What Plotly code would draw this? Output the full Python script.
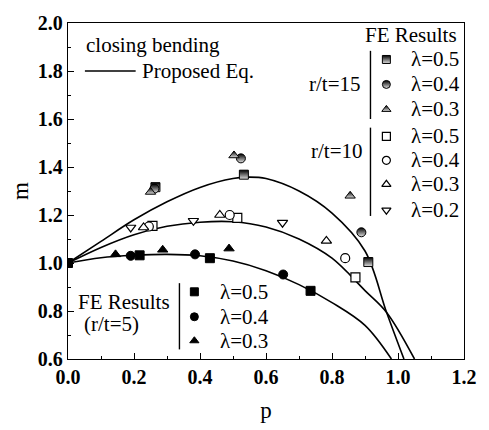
import plotly.graph_objects as go

# ---- FE results (r/t = 5, filled) ----
p5_sq = [0.0, 0.217, 0.43, 0.735]
m5_sq = [1.0, 1.032, 1.02, 0.884]
p5_ci = [0.19, 0.385, 0.652]
m5_ci = [1.03, 1.036, 0.952]
p5_tr = [0.144, 0.287, 0.488]
m5_tr = [1.036, 1.055, 1.06]

# ---- FE results (r/t = 10, open) ----
p10_sq = [0.256, 0.513, 0.871]
m10_sq = [1.155, 1.188, 0.94]
p10_ci = [0.245, 0.49, 0.84]
m10_ci = [1.152, 1.2, 1.02]
p10_tr = [0.229, 0.46, 0.783]
m10_tr = [1.148, 1.2, 1.092]
p10_dt = [0.19, 0.38, 0.65]
m10_dt = [1.148, 1.176, 1.168]

# ---- FE results (r/t = 15, half filled) ----
p15_sq = [0.265, 0.533, 0.91]
m15_sq = [1.316, 1.368, 1.004]
p15_ci = [0.262, 0.524, 0.889]
m15_ci = [1.31, 1.436, 1.128]
p15_tr = [0.25, 0.503, 0.855]
m15_tr = [1.296, 1.448, 1.28]

# ---- Proposed Eq. curves ----
curve_p5 = [0, 0.1, 0.2, 0.3, 0.4, 0.5, 0.6, 0.7, 0.8, 0.9, 0.98]
curve_m5 = [1.0, 1.022, 1.032, 1.036, 1.03, 1.008, 0.968, 0.91, 0.835, 0.74, 0.6]
curve_p10 = [0, 0.1, 0.2, 0.3, 0.4, 0.5, 0.6, 0.7, 0.8, 0.9, 0.965, 1.05]
curve_m10 = [1.0, 1.065, 1.118, 1.153, 1.17, 1.172, 1.15, 1.1, 1.02, 0.885, 0.795, 0.6]
curve_p15 = [0, 0.1, 0.2, 0.3, 0.4, 0.5, 0.55, 0.6, 0.7, 0.8, 0.9, 0.965, 1.018]
curve_m15 = [1.0, 1.09, 1.18, 1.255, 1.315, 1.352, 1.358, 1.352, 1.3, 1.208, 1.05, 0.796, 0.6]

lam15 = ["λ=0.5", "λ=0.4", "λ=0.3"]
lam10 = ["λ=0.5", "λ=0.4", "λ=0.3", "λ=0.2"]
lam5 = ["λ=0.5", "λ=0.4", "λ=0.3"]

FONT = "Liberation Serif"
W, H = 489, 430
L, R, T, B = 68, 466, 12, 362

fig = go.Figure()

for cp, cm in [(curve_p5, curve_m5), (curve_p10, curve_m10), (curve_p15, curve_m15)]:
    fig.add_trace(go.Scatter(x=cp, y=cm, mode="lines",
                             line=dict(color="black", width=1.6, shape="spline", smoothing=1.0),
                             hoverinfo="skip"))

half = dict(color="black", gradient=dict(type="vertical", color="#e0e0e0"),
            line=dict(color="black", width=1))
openm = dict(color="white", line=dict(color="black", width=1.2))
filled = dict(color="black", line=dict(color="black", width=1))

def pts(x, y, sym, style, size=9, xa="x", ya="y"):
    fig.add_trace(go.Scatter(x=x, y=y, mode="markers", xaxis=xa, yaxis=ya,
                             marker=dict(symbol=sym, size=size, **style),
                             hoverinfo="skip"))

pts(p5_sq, m5_sq, "square", filled)
pts(p5_ci, m5_ci, "circle", filled)
pts(p5_tr, m5_tr, "triangle-up", filled)
pts(p10_sq, m10_sq, "square", openm)
pts(p10_ci, m10_ci, "circle", openm)
pts(p10_tr, m10_tr, "triangle-up", openm)
pts(p10_dt, m10_dt, "triangle-down", openm)
pts(p15_sq, m15_sq, "square", half)
pts(p15_ci, m15_ci, "circle", half)
pts(p15_tr, m15_tr, "triangle-up", half)

# legend glyphs on a pixel-like overlay axis
ann = []
def txt(x, y, s, xanchor="center", size=21):
    ann.append(dict(x=x, y=y, xref="x2", yref="y2", text=s, showarrow=False,
                    xanchor=xanchor, yanchor="middle",
                    font=dict(family=FONT, size=size, color="black")))

ly15 = [50, 76, 102]
ly10 = [130, 155, 180, 207]
ly5 = [292, 318, 343]
pts([388] * 3, ly15, ["square", "circle", "triangle-up"], half, size=8, xa="x2", ya="y2")
pts([388] * 4, ly10, ["square", "circle", "triangle-up", "triangle-down"], openm, size=8, xa="x2", ya="y2")
pts([195] * 3, ly5, ["square", "circle", "triangle-up"], filled, size=8, xa="x2", ya="y2")
for y, s in zip(ly15, lam15):
    txt(437, y, s)
for y, s in zip(ly10, lam10):
    txt(437, y, s)
for y, s in zip(ly5, lam5):
    txt(245, y, s)

txt(413, 24, "FE Results")
txt(364, 76, "r/t=15", xanchor="right")
txt(366, 145, "r/t=10", xanchor="right")
txt(84, 35, "closing bending", xanchor="left")
txt(140, 62, "Proposed Eq.", xanchor="left")
txt(124, 303, "FE Results")
txt(112, 326, "(r/t=5)")

shapes = [
    dict(type="line", xref="x2", yref="y2", x0=85, x1=136, y0=62, y1=62, line=dict(color="black", width=1.4)),
    dict(type="line", xref="x2", yref="y2", x0=372, x1=372, y0=41, y1=112, line=dict(color="black", width=1.4)),
    dict(type="line", xref="x2", yref="y2", x0=372, x1=372, y0=121, y1=213, line=dict(color="black", width=1.4)),
    dict(type="line", xref="x2", yref="y2", x0=180, x1=180, y0=283, y1=352, line=dict(color="black", width=1.4)),
]

axis_common = dict(showgrid=False, zeroline=False, showline=True, linecolor="black", linewidth=1.4,
                   mirror=True, ticks="inside", ticklen=6, tickwidth=1.2, tickcolor="black",
                   tickfont=dict(family=FONT, size=20, color="black", weight="bold"))

fig.update_layout(
    width=W, height=H, showlegend=False,
    paper_bgcolor="white", plot_bgcolor="white",
    margin=dict(l=L, r=W - R, t=T, b=H - B),
    xaxis=dict(range=[0, 1.2], tickvals=[0, 0.2, 0.4, 0.6, 0.8, 1.0, 1.2],
               ticktext=["0.0", "0.2", "0.4", "0.6", "0.8", "1.0", "1.2"],
               minor=dict(tickvals=[0.1, 0.3, 0.5, 0.7, 0.9, 1.1], ticks="inside", ticklen=3,
                          tickwidth=1, tickcolor="black"),
               title=dict(text="p", standoff=14, font=dict(family=FONT, size=23, color="black")),
               **axis_common),
    yaxis=dict(range=[0.6, 2.0], tickvals=[0.6, 0.8, 1.0, 1.2, 1.4, 1.6, 1.8, 2.0],
               ticktext=["0.6", "0.8", "1.0", "1.2", "1.4", "1.6", "1.8", "2.0"],
               minor=dict(tickvals=[0.7, 0.9, 1.1, 1.3, 1.5, 1.7, 1.9], ticks="inside", ticklen=3,
                          tickwidth=1, tickcolor="black"),
               title=dict(text="m", standoff=2, font=dict(family=FONT, size=23, color="black")),
               **axis_common),
    xaxis2=dict(overlaying="x", range=[L, R], visible=False, anchor="y2"),
    yaxis2=dict(overlaying="y", range=[B, T], visible=False, anchor="x2"),
    annotations=ann, shapes=shapes,
)

fig.write_html("out.html")
